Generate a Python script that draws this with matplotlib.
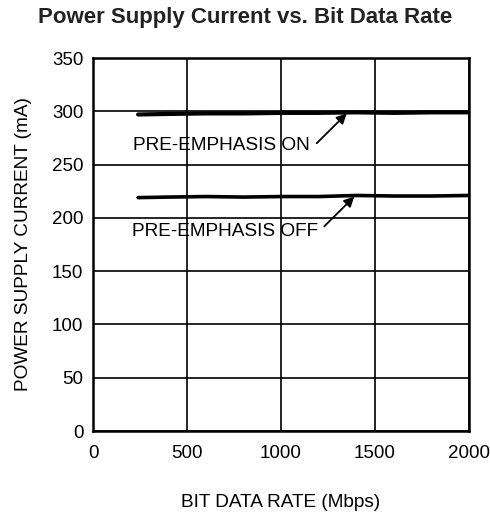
import matplotlib
matplotlib.use("Agg")
import matplotlib.pyplot as plt

plt.rcParams['font.family'] = ['Liberation Sans', 'DejaVu Sans']

rate_on = [240, 400, 600, 800, 1000, 1200, 1400, 1600, 1800, 2000]
current_on = [297, 297.5, 298, 298, 298.5, 298.5, 299, 298.5, 299, 299]
rate_off = [240, 400, 600, 800, 1000, 1200, 1400, 1600, 1800, 2000]
current_off = [219, 219.5, 220, 219.5, 220, 220, 221, 220.5, 220.5, 221]

xticks = [0, 500, 1000, 1500, 2000]
yticks = [0, 50, 100, 150, 200, 250, 300, 350]

fig = plt.figure(figsize=(4.9, 5.18), dpi=100)
ax = fig.add_axes([93/490, 1-431/518, 376/490, 373/518])

ax.plot(rate_on, current_on, color='black', lw=3, solid_capstyle='round')
ax.plot(rate_off, current_off, color='black', lw=2.6, solid_capstyle='round')

ax.set_xlim(0, 2000)
ax.set_ylim(0, 350)
ax.set_xticks(xticks)
ax.set_yticks(yticks)
ax.grid(True, color='black', lw=1.2)
for s in ax.spines.values():
    s.set_linewidth(1.8)
ax.tick_params(axis='x', length=0, labelsize=13.5, pad=10)
ax.tick_params(axis='y', length=0, labelsize=13.5, pad=7)

arrow = dict(arrowstyle='-|>', color='black', lw=1.3, mutation_scale=15, shrinkA=0, shrinkB=0)
ax.annotate('', xy=(1350, 298), xytext=(1190, 270), arrowprops=arrow)
ax.text(1155, 268, 'PRE-EMPHASIS ON', ha='right', va='center', fontsize=13.7)
ax.annotate('', xy=(1390, 220), xytext=(1230, 192), arrowprops=arrow)
ax.text(1195, 187, 'PRE-EMPHASIS OFF', ha='right', va='center', fontsize=13.7)

ax.set_xlabel('BIT DATA RATE (Mbps)', fontsize=13.7, labelpad=23)
ax.set_ylabel('POWER SUPPLY CURRENT (mA)', fontsize=13.7, labelpad=14)
fig.text(0.5, 1-17/518, 'Power Supply Current vs. Bit Data Rate', ha='center', va='center',
         fontsize=16, fontweight='bold', color='#222222')

fig.savefig('out.png', dpi=100)
